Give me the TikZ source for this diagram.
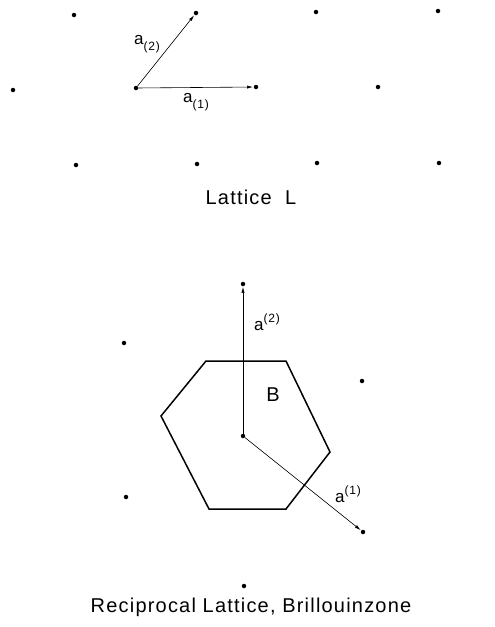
\documentclass[tikz,border=0pt]{standalone}
\usepackage{fontspec}
\setmainfont{Liberation Sans}[LetterSpace=6]
\usetikzlibrary{arrows.meta}
\newcommand{\lsub}[1]{\raisebox{-5.5pt}{\fontsize{12}{14}\selectfont #1}}
\newcommand{\lsup}[1]{\raisebox{8pt}{\fontsize{12}{14}\selectfont #1}}
\begin{document}
\begin{tikzpicture}[x=1pt,y=-1pt,
  dot/.style={circle,fill=black,inner sep=0pt,minimum size=4.5pt},
  vec/.style={line width=0.6pt,-{Latex[length=6pt,width=3.2pt]},shorten >=0.5pt},
  lbl/.style={inner sep=0pt,font=\fontsize{17}{20}\selectfont},
  captext/.style={inner sep=0pt,font=\fontsize{20}{22}\selectfont}]
\useasboundingbox (0,0) rectangle (495,627);
% Lattice L
\node[dot] (u1) at (74,15) {};
\node[dot] (u2) at (196,13) {};
\node[dot] (u3) at (316,12) {};
\node[dot] (u4) at (438,11) {};
\node[dot] (m1) at (13,90) {};
\node[dot] (o) at (136,88) {};
\node[dot] (m3) at (256,87) {};
\node[dot] (m4) at (378,87) {};
\node[dot] (l1) at (76,165) {};
\node[dot] (l2) at (197,164) {};
\node[dot] (l3) at (317,163) {};
\node[dot] (l4) at (439,163) {};
\draw[vec] (o) -- (u2);
\draw[vec] (o) -- (m3);
\node[lbl] (la2) at (147,44) {a\lsub{(2)}};
\node[lbl] (la1) at (196,102) {a\lsub{(1)}};
\node[captext] (tl) at (251,197) {Lattice\ \ L};
% Reciprocal lattice
\node[dot] (r0) at (243,436) {};
\node[dot] (r2) at (243,284) {};
\node[dot] (r1) at (363,532) {};
\node[dot] (r12) at (362,381) {};
\node[dot] (rm1) at (124,343) {};
\node[dot] (rm12) at (126,497) {};
\node[dot] (rm2) at (244,586) {};
\draw[line width=1.5pt,line join=miter] (206,361) -- (286,361) -- (330,452) -- (286,509) -- (209,509) -- (161,416) -- cycle;
\draw[vec] (r0) -- (r2);
\draw[vec] (r0) -- (r1);
\node[lbl] (lb2) at (267,322) {a\lsup{(2)}};
\node[lbl] (lb1) at (348,494) {a\lsup{(1)}};
\node[lbl,font=\fontsize{20}{22}\selectfont] (lB) at (273,395) {B};
\node[captext] (tr) at (251,607) {Reciprocal Lattice, Brillouinzone};
\end{tikzpicture}
\end{document}
